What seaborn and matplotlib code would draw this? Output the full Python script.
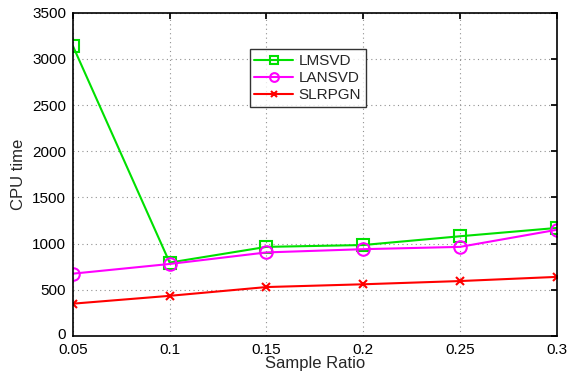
import matplotlib
matplotlib.use("Agg")
import matplotlib.pyplot as plt
import matplotlib.transforms as mtrans
import seaborn as sns
import pandas as pd

ratios = [0.05, 0.1, 0.15, 0.2, 0.25, 0.3]
lmsvd = [3140, 795, 965, 985, 1080, 1170]
lansvd = [675, 780, 905, 940, 965, 1150]
slrpgn = [350, 435, 530, 560, 595, 640]
xticks = [0.05, 0.1, 0.15, 0.2, 0.25, 0.3]
xticklabels = ["0.05", "0.1", "0.15", "0.2", "0.25", "0.3"]
yticks = [0, 500, 1000, 1500, 2000, 2500, 3000, 3500]

sns.set_theme(style="white")
plt.rcParams['font.family'] = ['Liberation Sans', 'DejaVu Sans']

df = pd.DataFrame({
    "ratio": ratios * 3,
    "time": lmsvd + lansvd + slrpgn,
    "method": ["LMSVD"] * 6 + ["LANSVD"] * 6 + ["SLRPGN"] * 6,
})

fig = plt.figure(figsize=(5.74, 3.75), dpi=100)
ax = fig.add_axes([0.127, 0.104, 0.843, 0.862])

styles = {"LMSVD": ("#00e000", "s", 8), "LANSVD": ("#ff00ff", "o", 9), "SLRPGN": ("#ff0000", "x", 6)}
for name in ["LMSVD", "LANSVD", "SLRPGN"]:
    c, m, ms = styles[name]
    sub = df[df.method == name]
    sns.lineplot(data=sub, x="ratio", y="time", ax=ax, color=c, marker=m,
                 markersize=ms, markerfacecolor="none" if m != "x" else c,
                 markeredgecolor=c, markeredgewidth=1.5, linewidth=1.5, label=name)

ax.set_xlim(0.05, 0.3)
ax.set_ylim(0, 3500)
ax.set_xticks(xticks)
ax.set_xticklabels(xticklabels)
ax.set_yticks(yticks)
ax.grid(True, linestyle=(0, (1, 3)), color="#909090", linewidth=0.8)
ax.tick_params(direction="in", length=4, labelsize=11, colors="black", top=True, right=True)
ax.tick_params(axis="x", pad=5)
ax.tick_params(axis="y", pad=5)
for s in ax.spines.values():
    s.set_color("black")
    s.set_linewidth(1.2)
ax.set_xlabel("Sample Ratio", fontsize=12, labelpad=-1)
ax.set_ylabel("CPU time", fontsize=12)

# nudge the "0" y tick label up slightly so it does not touch "0.05"
fig.canvas.draw()
lbl0 = ax.get_yticklabels()[0]
lbl0.set_transform(lbl0.get_transform() + mtrans.ScaledTranslation(0, 2 / 72, fig.dpi_scale_trans))

leg = ax.legend(loc="upper left", bbox_to_anchor=(0.35, 0.91), fontsize=11,
                frameon=True, fancybox=False, edgecolor="black", handlelength=2.5,
                borderpad=0.3, labelspacing=0.2, handletextpad=0.4, markerscale=0.7)
leg.get_frame().set_linewidth(1.0)

fig.savefig("out.png", dpi=100)
